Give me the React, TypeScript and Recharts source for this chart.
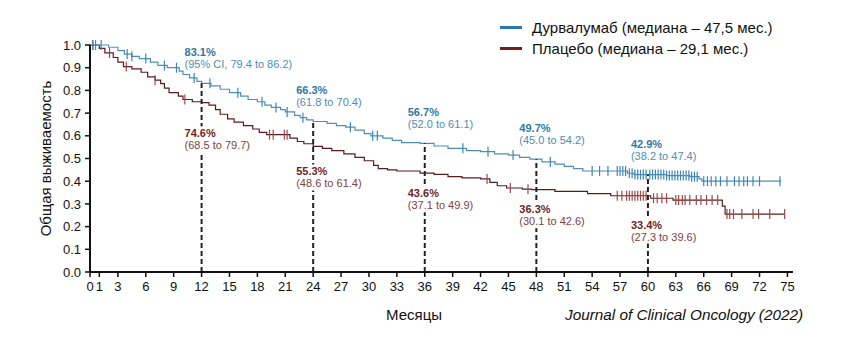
import React from "react";
import {
  ComposedChart,
  Line,
  XAxis,
  YAxis,
  ReferenceLine,
} from "recharts";

// Kaplan-Meier steps [month, survival]
const durvaSteps: [number, number][] = [
  [0, 1.0], [2, 0.99], [3, 0.975], [3.7, 0.96], [4.5, 0.95], [5.3, 0.94],
  [6.5, 0.925], [7.3, 0.91], [8.3, 0.9], [9.6, 0.885], [10, 0.87], [10.7, 0.855],
  [11.5, 0.84], [12, 0.831], [13, 0.82], [14, 0.805], [15, 0.79], [16.2, 0.775],
  [17, 0.76], [18, 0.75], [18.8, 0.735], [19.5, 0.725], [20.5, 0.715], [21, 0.705],
  [22, 0.69], [22.6, 0.68], [23.3, 0.67], [24, 0.663], [25.5, 0.655], [26.5, 0.645],
  [27.5, 0.638], [28.5, 0.625], [29.5, 0.61], [30.2, 0.6], [31.5, 0.59], [32.5, 0.58],
  [33.5, 0.57], [35.5, 0.567], [37, 0.555], [38.5, 0.545], [40.5, 0.535], [42, 0.53],
  [43.5, 0.52], [45, 0.515], [46.2, 0.505], [47.3, 0.497], [48.6, 0.485], [50, 0.475],
  [51, 0.465], [52, 0.455], [53, 0.445], [57.8, 0.435], [58.5, 0.429], [62, 0.425],
  [64.5, 0.42], [65.5, 0.41], [65.8, 0.4], [74.3, 0.4],
];

const durvaCensor = [
  0.3, 0.6, 1.2, 4, 4.5, 6, 8, 9.3, 11.2, 12.9, 15.9, 18.5, 20, 21.2, 22.9, 28,
  30.4, 30.9, 40.1, 42.8, 45.5, 49.5, 54, 54.8, 55.7, 56.7, 57, 57.3, 57.6, 58,
  58.3, 58.6, 58.9, 59.2, 59.5, 59.8, 60.2, 60.5, 60.8, 61.1, 61.4, 61.7, 62,
  62.3, 62.6, 62.9, 63.2, 63.5, 63.8, 64.1, 64.4, 64.7, 65, 65.3, 66, 66.4, 66.8,
  67.3, 67.8, 68.5, 69.3, 69.8, 70.3, 70.7, 71.3, 72, 74.2,
];

const placeboSteps: [number, number][] = [
  [0, 1.0], [1, 0.985], [1.6, 0.965], [2.5, 0.945], [3, 0.925], [3.6, 0.905],
  [4.5, 0.895], [5.5, 0.88], [6.2, 0.86], [7, 0.845], [7.6, 0.83], [8, 0.81],
  [8.5, 0.79], [9.5, 0.775], [10, 0.76], [11, 0.75], [12, 0.746], [12.8, 0.735],
  [13.5, 0.715], [14, 0.695], [14.8, 0.675], [15.5, 0.66], [16.5, 0.645], [17.5, 0.63],
  [18.2, 0.615], [19, 0.605], [21.5, 0.59], [22.3, 0.575], [23, 0.565], [24, 0.553],
  [25, 0.545], [26, 0.535], [27.3, 0.52], [28.5, 0.505], [29.5, 0.49], [30.5, 0.47],
  [31, 0.455], [32, 0.45], [33, 0.445], [35.5, 0.436], [37, 0.43], [38.5, 0.42],
  [40, 0.415], [42, 0.41], [43, 0.395], [43.8, 0.38], [44.8, 0.37], [46.5, 0.365],
  [47.5, 0.363], [50, 0.355], [53.5, 0.345], [56, 0.336], [60.3, 0.325], [62.7, 0.317],
  [68, 0.29], [68.3, 0.255], [74.7, 0.255],
];

const placeboCensor = [
  0.3, 2.1, 3.9, 7, 10.2, 19.3, 19.7, 20.9, 21.2, 42.7, 45.2, 47.1, 56.7, 57.2,
  57.7, 58, 58.3, 58.6, 58.9, 59.2, 59.5, 59.8, 60.6, 61, 61.5, 62, 63, 63.3,
  63.7, 64, 64.5, 65.2, 65.7, 66.3, 66.9, 67.5, 68.5, 68.8, 69.2, 70.1, 71.3,
  71.9, 73.1, 74.7,
];

// landmark estimates
const landmarkMonths = [12, 24, 36, 48, 60];
const durvaPct = ["83.1%", "66.3%", "56.7%", "49.7%", "42.9%"];
const durvaCI = ["(95% CI, 79.4 to 86.2)", "(61.8 to 70.4)", "(52.0 to 61.1)", "(45.0 to 54.2)", "(38.2 to 47.4)"];
const durvaValues = [0.831, 0.663, 0.567, 0.497, 0.429];
const placeboPct = ["74.6%", "55.3%", "43.6%", "36.3%", "33.4%"];
const placeboCI = ["(68.5 to 79.7)", "(48.6 to 61.4)", "(37.1 to 49.9)", "(30.1 to 42.6)", "(27.3 to 39.6)"];

const xTicks = [0, 1, 3, 6, 9, 12, 15, 18, 21, 24, 27, 30, 33, 36, 39, 42, 45, 48, 51, 54, 57, 60, 63, 66, 69, 72, 75];
const yTicks = [0, 0.1, 0.2, 0.3, 0.4, 0.5, 0.6, 0.7, 0.8, 0.9, 1.0];

const legendItems = [
  { label: "Дурвалумаб (медиана – 47,5 мес.)", color: "#2e75b6" },
  { label: "Плацебо (медиана – 29,1 мес.)", color: "#7b1b1b" },
];

const FONT = "Liberation Sans, Arial, sans-serif";
const BLUE_LINE = "#4f8fb6";
const BLUE_MARK = "#3a86bd";
const RED_LINE = "#5a1c1c";
const RED_MARK = "#a54646";

function buildSeries(steps: [number, number][], censor: number[]) {
  const pts = steps.map(([t, s]) => ({ t, s, c: false }));
  censor.forEach((t) => {
    let s = steps[0][1];
    for (const [st, sv] of steps) if (st <= t) s = sv;
    pts.push({ t, s, c: true });
  });
  return pts.sort((a, b) => a.t - b.t || Number(a.c) - Number(b.c));
}

const durvaData = buildSeries(durvaSteps, durvaCensor);
const placeboData = buildSeries(placeboSteps, placeboCensor);

const annotations = landmarkMonths.map((t, i) => ({
  t,
  s: durvaValues[i],
  bp: durvaPct[i],
  bci: durvaCI[i],
  rp: placeboPct[i],
  rci: placeboCI[i],
}));

const censorDot = (color: string) => (props: any) => {
  const { cx, cy, payload, key } = props;
  if (!payload.c) return <g key={key} />;
  return <line key={key} x1={cx} x2={cx} y1={cy - 5} y2={cy + 5} stroke={color} strokeWidth={1.2} />;
};

// labels drawn by each dashed line, anchored at the top of the segment (durvalumab value)
const landmarkLabel = (a: (typeof annotations)[number]) => (p: any) => {
  const vb = p.viewBox;
  const x = vb.x - 17;
  const cy = vb.y;
  return (
    <g fontFamily={FONT} fontSize={11}>
      <text x={x} y={cy - 27} fill="#2f78a3" fontWeight="bold">{a.bp}</text>
      <text x={x} y={cy - 15} fill="#4e8db3">{a.bci}</text>
      {/* break in the dashed line behind the placebo label */}
      <rect x={vb.x - 3} y={cy + 43} width={6} height={26} fill="#fff" />
      <text x={x} y={cy + 54} fill="#6e1f1f" fontWeight="bold">{a.rp}</text>
      <text x={x} y={cy + 66} fill="#834040">{a.rci}</text>
    </g>
  );
};

export default function App() {
  return (
    <div style={{ position: "absolute", left: 0, top: 0, width: 855, height: 361, background: "#fff" }}>
      <ComposedChart
        width={855}
        height={361}
        margin={{ top: 45, right: 62, left: 0, bottom: 59 }}
      >
        <XAxis
          dataKey="t"
          type="number"
          domain={[0, 75.6]}
          ticks={xTicks}
          interval={0}
          allowDataOverflow
          height={30}
          tickSize={5}
          tickMargin={5}
          axisLine={{ stroke: "#111", strokeWidth: 2 }}
          tickLine={{ stroke: "#111", strokeWidth: 1.5 }}
          tick={{ fill: "#111", fontSize: 13, fontFamily: FONT }}
        />
        <YAxis
          type="number"
          domain={[0, 1]}
          ticks={yTicks}
          interval={0}
          width={90}
          tickSize={5}
          tickMargin={4}
          tickFormatter={(v: number) => v.toFixed(1)}
          axisLine={{ stroke: "#111", strokeWidth: 2 }}
          tickLine={{ stroke: "#111", strokeWidth: 1.5 }}
          tick={{ fill: "#111", fontSize: 13, fontFamily: FONT }}
          label={{
            content: (p: any) => {
              const vb = p.viewBox;
              const x = vb.x + 45;
              const y = vb.y + vb.height / 2;
              return (
                <text
                  x={x}
                  y={y}
                  transform={`rotate(-90 ${x} ${y})`}
                  textAnchor="middle"
                  dominantBaseline="central"
                  fontSize={15}
                  fontFamily={FONT}
                  fill="#111"
                >
                  Общая выживаемость
                </text>
              );
            },
          }}
        />
        <Line
          data={placeboData}
          dataKey="s"
          type="stepAfter"
          stroke={RED_LINE}
          strokeWidth={1.2}
          dot={censorDot(RED_MARK)}
          activeDot={false}
          isAnimationActive={false}
        />
        <Line
          data={durvaData}
          dataKey="s"
          type="stepAfter"
          stroke={BLUE_LINE}
          strokeWidth={1.2}
          dot={censorDot(BLUE_MARK)}
          activeDot={false}
          isAnimationActive={false}
        />
        {annotations.map((a) => (
          <ReferenceLine
            key={a.t}
            segment={[{ x: a.t, y: 0 }, { x: a.t, y: a.s }]}
            stroke="#222"
            strokeWidth={2}
            strokeDasharray="5 3"
            label={{ content: landmarkLabel(a) }}
          />
        ))}
      </ComposedChart>
      <div style={{ position: "absolute", left: 500, top: 17, fontFamily: FONT, fontSize: 15, color: "#111" }}>
        {legendItems.map((it) => (
          <div key={it.label} style={{ display: "flex", alignItems: "center", height: 21, whiteSpace: "nowrap" }}>
            <span style={{ display: "inline-block", width: 22, height: 3, background: it.color, marginRight: 10 }} />
            <span>{it.label}</span>
          </div>
        ))}
      </div>
      <div style={{ position: "absolute", left: 386, top: 306, fontSize: 15, fontFamily: FONT, color: "#111" }}>
        Месяцы
      </div>
      <div
        style={{
          position: "absolute",
          left: 565,
          top: 306,
          fontSize: 15.3,
          fontStyle: "italic",
          fontFamily: FONT,
          color: "#111",
          whiteSpace: "nowrap",
        }}
      >
        Journal of Clinical Oncology (2022)
      </div>
    </div>
  );
}
